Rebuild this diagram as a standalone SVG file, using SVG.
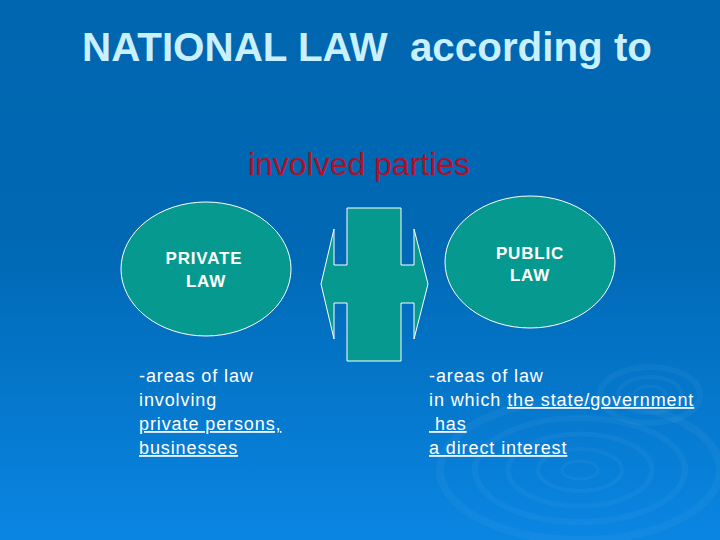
<svg xmlns="http://www.w3.org/2000/svg" width="720" height="540" viewBox="0 0 720 540">
<defs>
<linearGradient id="bg" x1="0" y1="0" x2="0" y2="1">
<stop offset="0" stop-color="#0066B0"/>
<stop offset="0.45" stop-color="#0068B4"/>
<stop offset="1" stop-color="#0A86E2"/>
</linearGradient>
<style>
.node{fill:#06998F;stroke:#FFFFFF;stroke-width:1}
.lbl{font-family:"Liberation Sans",Arial,sans-serif;font-weight:bold;font-size:17px;letter-spacing:0.8px;fill:#FFFFFF;text-anchor:middle}
.body{font-family:"Liberation Sans",Arial,sans-serif;font-size:18px;letter-spacing:0.9px;fill:#FFFFFF}
.u{text-decoration:underline}
.rip{fill:none;stroke:#FFFFFF;stroke-opacity:0.04}
</style>
</defs>
<rect width="720" height="540" fill="url(#bg)"/>
<g id="ripples">
<ellipse class="rip" cx="650" cy="395" rx="50" ry="28" stroke-width="6"/>
<ellipse class="rip" cx="650" cy="395" rx="32" ry="18" stroke-width="4"/>
<ellipse class="rip" cx="650" cy="395" rx="16" ry="9" stroke-width="3"/>
<ellipse class="rip" cx="580" cy="470" rx="140" ry="70" stroke-width="8"/>
<ellipse class="rip" cx="580" cy="470" rx="105" ry="52" stroke-width="6"/>
<ellipse class="rip" cx="580" cy="470" rx="72" ry="36" stroke-width="5"/>
<ellipse class="rip" cx="580" cy="470" rx="42" ry="21" stroke-width="4"/>
<ellipse class="rip" cx="580" cy="470" rx="18" ry="9" stroke-width="3"/>
</g>
<g id="title">
<text x="82" y="61" font-family="Liberation Sans,Arial,sans-serif" font-weight="bold" font-size="41" fill="#C8F0FF" textLength="570" lengthAdjust="spacingAndGlyphs" xml:space="preserve">NATIONAL LAW  according to</text>
</g>
<g id="subtitle">
<text x="359" y="175" font-family="Liberation Sans,Arial,sans-serif" font-size="31" fill="#B0102A" text-anchor="middle" textLength="222" lengthAdjust="spacingAndGlyphs">involved parties</text>
</g>
<g id="private-law">
<ellipse class="node" cx="206" cy="269" rx="85" ry="67"/>
<text class="lbl" x="204" y="264">PRIVATE</text>
<text class="lbl" x="206" y="287">LAW</text>
</g>
<g id="public-law">
<ellipse class="node" cx="530" cy="262" rx="85" ry="66"/>
<text class="lbl" x="530" y="259">PUBLIC</text>
<text class="lbl" x="530" y="281">LAW</text>
</g>
<g id="connectors">
<path class="node" d="M347,208 L401,208 L401,265 L414,265 L414,229 L428,284 L414,339 L414,303 L401,303 L401,361 L347,361 L347,303 L334,303 L334,339 L321,284 L334,229 L334,265 L347,265 Z"/>
</g>
<g id="private-text">
<text class="body" x="139" y="382">-areas of law</text>
<text class="body" x="139" y="406">involving</text>
<text class="body u" x="139" y="430">private persons,</text>
<text class="body u" x="139" y="454">businesses</text>
</g>
<g id="public-text">
<text class="body" x="429" y="382">-areas of law</text>
<text class="body" x="429" y="406">in which <tspan class="u">the state/government</tspan></text>
<text class="body u" x="429" y="430" xml:space="preserve"> has</text>
<text class="body u" x="429" y="454">a direct interest</text>
</g>
</svg>
